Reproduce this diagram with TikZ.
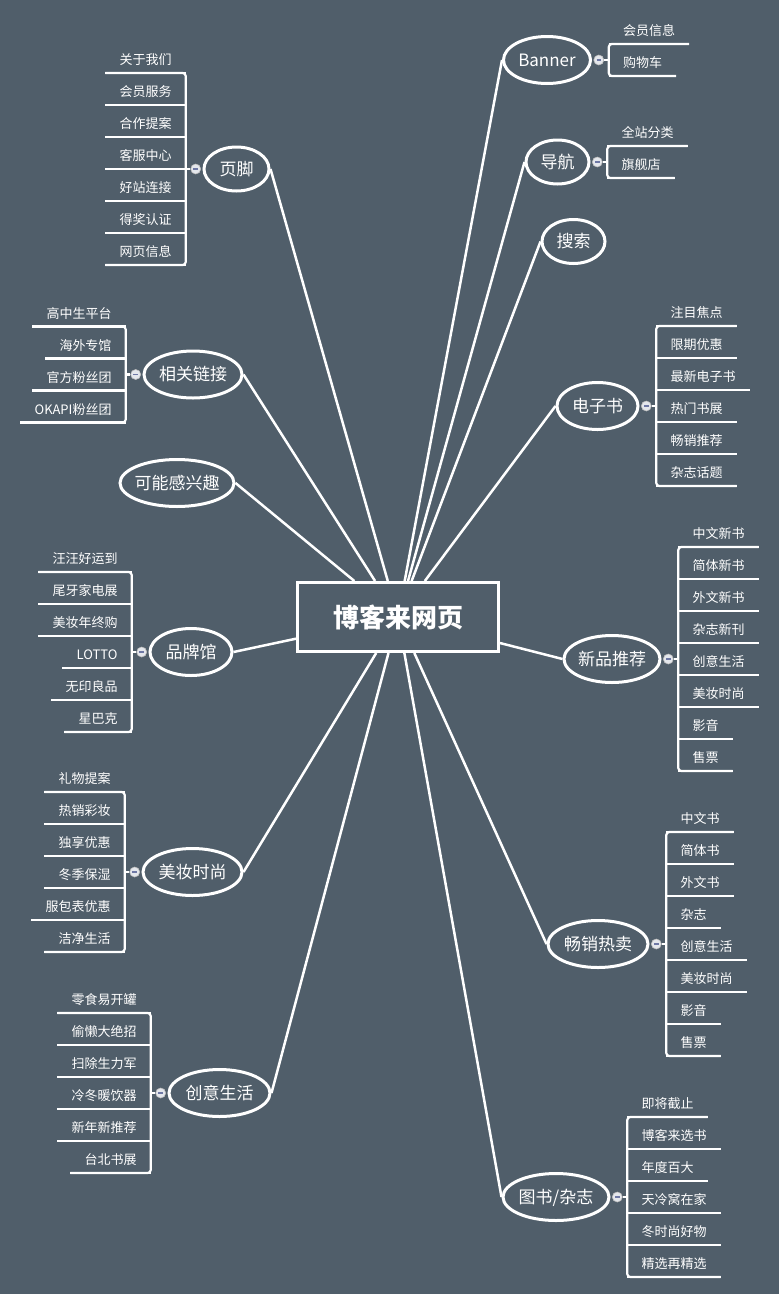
\documentclass[tikz,border=0pt]{standalone}
\usepackage{fontspec}
\newfontfamily\cjk{Noto Sans CJK SC}
\usetikzlibrary{calc,positioning,shapes.geometric}
\definecolor{slate}{RGB}{80,94,106}
\definecolor{knobfill}{RGB}{228,231,236}
\definecolor{knobdash}{RGB}{110,120,165}
\newcommand{\knobminus}{\color{knobdash}\rule{4.5pt}{1.2pt}}

\tikzset{
  hub/.style={draw=white, line width=3pt, minimum width=201pt, minimum height=69pt,
    text=white, font=\cjk\bfseries\fontsize{26pt}{30pt}\selectfont},
  branch/.style={ellipse, draw=white, line width=3pt, minimum height=47pt,
    inner xsep=-6pt, inner ysep=0pt, text height=14pt, text depth=2pt,
    text=white, font=\cjk\fontsize{17pt}{20pt}\selectfont},
  link/.style={white, line width=2.5pt},
  twig/.style={white, line width=2.2pt},
  knob/.style={circle, fill=knobfill, draw=gray!50, line width=0.6pt,
    minimum size=10pt, inner sep=0pt},
  leaf/.style={inner xsep=14pt, inner ysep=0pt, minimum height=26pt,
    text height=11pt, text depth=1pt, text=white,
    font=\cjk\fontsize{13pt}{15pt}\selectfont},
  rleaf/.style={leaf, anchor=south west},
  lleaf/.style={leaf, anchor=south east},
}

% children on the right of a branch: #1 branch, #2 count, #3 labels
\newcommand{\kidsright}[3]{%
  \node[knob, right=1.5pt of #1] (#1k) {\knobminus};
  \foreach \lbl [count=\i] in {#3}
    \node[rleaf] (#1\i) at ($(#1k)+(10,32*\i-16*#2-16)$) {\lbl};
  \foreach \i in {1,...,#2}
    \draw[twig] (#1\i.south west) -- (#1\i.south east);
  \draw[twig, rounded corners=3pt] (#11.south east) -- (#11.south west)
    -- (#1#2.south west) -- (#1#2.south east);
  \draw[twig] (#1k) -- (#1k -| #11.south west);
}
% children on the left of a branch
\newcommand{\kidsleft}[3]{%
  \node[knob, left=1.5pt of #1] (#1k) {\knobminus};
  \foreach \lbl [count=\i] in {#3}
    \node[lleaf] (#1\i) at ($(#1k)+(-10,32*\i-16*#2-16)$) {\lbl};
  \foreach \i in {1,...,#2}
    \draw[twig] (#1\i.south west) -- (#1\i.south east);
  \draw[twig, rounded corners=3pt] (#11.south west) -- (#11.south east)
    -- (#1#2.south east) -- (#1#2.south west);
  \draw[twig] (#1k) -- (#1k -| #11.south east);
}

\begin{document}
\begin{tikzpicture}[x=1pt,y=-1pt]
  \path[use as bounding box, fill=slate] (0,0) rectangle (779,1294);

  \node[hub] (hub) at (398,617) {博客来网页};

  % right side
  \node[branch, minimum width=87pt] (banner) at (547,60) {Banner};
  \node[branch, minimum width=63pt, minimum height=44pt] (nav) at (557.5,162) {导航};
  \node[branch, minimum width=63pt, minimum height=44pt] (search) at (573.5,241.5) {搜索};
  \node[branch, minimum width=81pt] (ebook) at (597.5,406) {电子书};
  \node[branch, minimum width=96pt] (newbook) at (612,659) {新品推荐};
  \node[branch, minimum width=100pt] (best) at (598,944) {畅销热卖};
  \node[branch, minimum width=106pt] (books) at (556,1197) {图书/杂志};

  % left side
  \node[branch, minimum width=65pt, minimum height=44pt] (footer) at (236.5,169) {页脚};
  \node[branch, minimum width=98pt] (links) at (193,374.5) {相关链接};
  \node[branch, minimum width=114pt] (maybe) at (177,483) {可能感兴趣};
  \node[branch, minimum width=82pt] (brands) at (191,652) {品牌馆};
  \node[branch, minimum width=99pt] (beauty) at (192.5,872) {美妆时尚};
  \node[branch, minimum width=101pt] (life) at (219.5,1093) {创意生活};

  \foreach \b in {banner,nav,search,ebook,newbook,best,books}
    \draw[link] (hub) -- (\b.west);
  \foreach \b in {footer,links,maybe,brands,beauty,life}
    \draw[link] (hub) -- (\b.east);

  \kidsright{banner}{2}{会员信息,购物车}
  \kidsright{nav}{2}{全站分类,旗舰店}
  \kidsright{ebook}{6}{注目焦点,限期优惠,最新电子书,热门书展,畅销推荐,杂志话题}
  \kidsright{newbook}{8}{中文新书,简体新书,外文新书,杂志新刊,创意生活,美妆时尚,影音,售票}
  \kidsright{best}{8}{中文书,简体书,外文书,杂志,创意生活,美妆时尚,影音,售票}
  \kidsright{books}{6}{即将截止,博客来选书,年度百大,天冷窝在家,冬时尚好物,精选再精选}

  \kidsleft{footer}{7}{关于我们,会员服务,合作提案,客服中心,好站连接,得奖认证,网页信息}
  \kidsleft{links}{4}{高中生平台,海外专馆,官方粉丝团,OKAPI粉丝团}
  \kidsleft{brands}{6}{汪汪好运到,尾牙家电展,美妆年终购,LOTTO,无印良品,星巴克}
  \kidsleft{beauty}{6}{礼物提案,热销彩妆,独享优惠,冬季保湿,服包表优惠,洁净生活}
  \kidsleft{life}{6}{零食易开罐,偷懒大绝招,扫除生力军,冷冬暖饮器,新年新推荐,台北书展}
\end{tikzpicture}
\end{document}
